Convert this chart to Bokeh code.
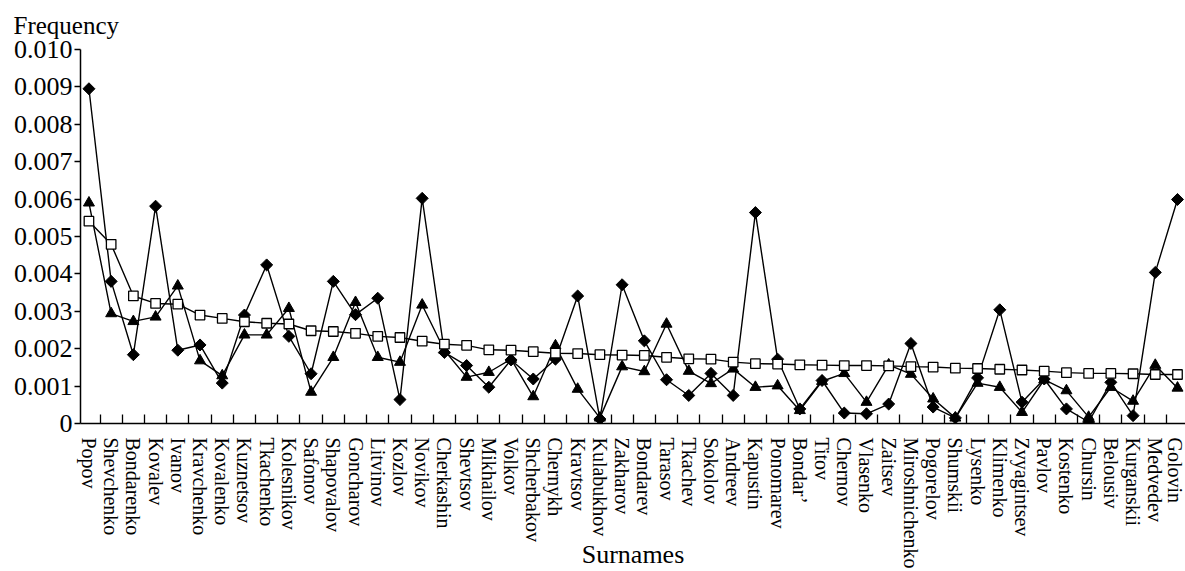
from bokeh.plotting import figure
from bokeh.models import FixedTicker, Range1d, Title
from bokeh.embed import file_html
from bokeh.resources import INLINE
from math import pi

surnames = ["Popov", "Shevchenko", "Bondarenko", "Kovalev", "Ivanov", "Kravchenko", "Kovalenko",
            "Kuznetsov", "Tkachenko", "Kolesnikov", "Safonov", "Shapovalov", "Goncharov", "Litvinov",
            "Kozlov", "Novikov", "Cherkashin", "Shevtsov", "Mikhailov", "Volkov", "Shcherbakov",
            "Chernykh", "Kravtsov", "Kulabukhov", "Zakharov", "Bondarev", "Tarasov", "Tkachev",
            "Sokolov", "Andreev", "Kapustin", "Ponomarev", "Bondar\u2019", "Titov", "Chernov",
            "Vlasenko", "Zaitsev", "Miroshnichenko", "Pogorelov", "Shumskii", "Lysenko", "Klimenko",
            "Zvyagintsev", "Pavlov", "Kostenko", "Chursin", "Belousiv", "Kurganskii", "Medvedev",
            "Golovin"]

series_diamond = [0.00895, 0.00380, 0.00184, 0.00581, 0.00196, 0.00210, 0.00108, 0.00290, 0.00424,
                  0.00233, 0.00133, 0.00380, 0.00291, 0.00335, 0.00064, 0.00602, 0.00190, 0.00155,
                  0.00097, 0.00170, 0.00119, 0.00172, 0.00341, 0.00012, 0.00371, 0.00221, 0.00117,
                  0.00075, 0.00134, 0.00075, 0.00564, 0.00172, 0.00039, 0.00115, 0.00028, 0.00026,
                  0.00052, 0.00214, 0.00044, 0.00015, 0.00122, 0.00304, 0.00057, 0.00119, 0.00039,
                  0.00004, 0.00110, 0.00021, 0.00404, 0.00599]

series_triangle = [0.00590, 0.00294, 0.00273, 0.00285, 0.00368, 0.00168, 0.00128, 0.00237, 0.00237,
                   0.00308, 0.00084, 0.00177, 0.00324, 0.00177, 0.00164, 0.00317, 0.00196, 0.00124,
                   0.00137, 0.00172, 0.00072, 0.00208, 0.00092, 0.00015, 0.00152, 0.00139, 0.00266,
                   0.00140, 0.00107, 0.00146, 0.00097, 0.00101, 0.00035, 0.00113, 0.00134, 0.00057,
                   0.00157, 0.00132, 0.00066, 0.00015, 0.00108, 0.00097, 0.00030, 0.00117, 0.00088,
                   0.00017, 0.00097, 0.00060, 0.00156, 0.00095]

series_square = [0.00541, 0.00479, 0.00341, 0.00321, 0.00319, 0.00290, 0.00281, 0.00272, 0.00268,
                 0.00266, 0.00248, 0.00246, 0.00241, 0.00233, 0.00230, 0.00220, 0.00212, 0.00209,
                 0.00197, 0.00196, 0.00192, 0.00188, 0.00187, 0.00184, 0.00183, 0.00182, 0.00177,
                 0.00173, 0.00172, 0.00164, 0.00160, 0.00159, 0.00157, 0.00156, 0.00155, 0.00155,
                 0.00154, 0.00152, 0.00151, 0.00148, 0.00147, 0.00145, 0.00143, 0.00140, 0.00136,
                 0.00134, 0.00134, 0.00133, 0.00131, 0.00131]

y_ticks = [0, 0.001, 0.002, 0.003, 0.004, 0.005, 0.006, 0.007, 0.008, 0.009, 0.010]
y_tick_labels = ["0", "0.001", "0.002", "0.003", "0.004", "0.005", "0.006", "0.007", "0.008",
                 "0.009", "0.010"]

FONT = "Liberation Serif"
idx = list(range(len(surnames)))

p = figure(width=1185, height=571, output_backend="svg", toolbar_location=None,
           x_range=Range1d(-0.38, 49.36), y_range=Range1d(0, 0.010),
           min_border_left=80, min_border_top=49, min_border_right=0, min_border_bottom=148)
p.outline_line_color = None
p.grid.grid_line_color = None
p.background_fill_color = "white"

p.add_layout(Title(text="Frequency", align="left", offset=-67, standoff=18,
                   vertical_align="top",
                   text_font=FONT, text_font_size="25px", text_font_style="normal",
                   text_color="black"), "above")

# lines
for ys in (series_square, series_triangle, series_diamond):
    p.line(idx, ys, line_color="black", line_width=1.4)

p.scatter(idx, series_triangle, marker="triangle", size=11, fill_color="black", line_color="black")
p.scatter(idx, series_diamond, marker="square", angle=pi / 4, size=8.5, fill_color="black",
          line_color="black")
p.scatter(idx, series_square, marker="square", size=9.5, fill_color="white", line_color="black",
          line_width=1.3)

# x axis
xa = p.xaxis[0]
xa.ticker = FixedTicker(ticks=idx, minor_ticks=[i + 0.5 for i in idx[:-1]])
xa.major_label_overrides = {i: s for i, s in zip(idx, surnames)}
xa.major_label_orientation = "vertical"
xa.major_label_text_font = FONT
xa.major_label_text_font_size = "20px"
xa.major_label_text_color = "black"
xa.major_label_standoff = 8
xa.major_tick_line_color = None
xa.minor_tick_in = 9
xa.minor_tick_out = 0
xa.minor_tick_line_color = "black"
xa.minor_tick_line_width = 1.3
xa.axis_line_color = "black"
xa.axis_line_width = 1.5
xa.axis_label = "Surnames"
xa.axis_label_text_font = FONT
xa.axis_label_text_font_size = "26px"
xa.axis_label_text_font_style = "normal"
xa.axis_label_text_color = "black"
xa.axis_label_standoff = -32

# y axis
ya = p.yaxis[0]
ya.ticker = FixedTicker(ticks=y_ticks, minor_ticks=[])
ya.major_label_overrides = {t: s for t, s in zip(y_ticks, y_tick_labels)}
ya.major_label_text_font = FONT
ya.major_label_text_font_size = "26px"
ya.major_label_text_color = "black"
ya.major_label_standoff = 2
ya.major_tick_in = 0
ya.major_tick_out = 6
ya.major_tick_line_color = "black"
ya.major_tick_line_width = 1.3
ya.minor_tick_line_color = None
ya.axis_line_color = "black"
ya.axis_line_width = 1.5

open("out.html", "w").write(file_html(p, INLINE))
